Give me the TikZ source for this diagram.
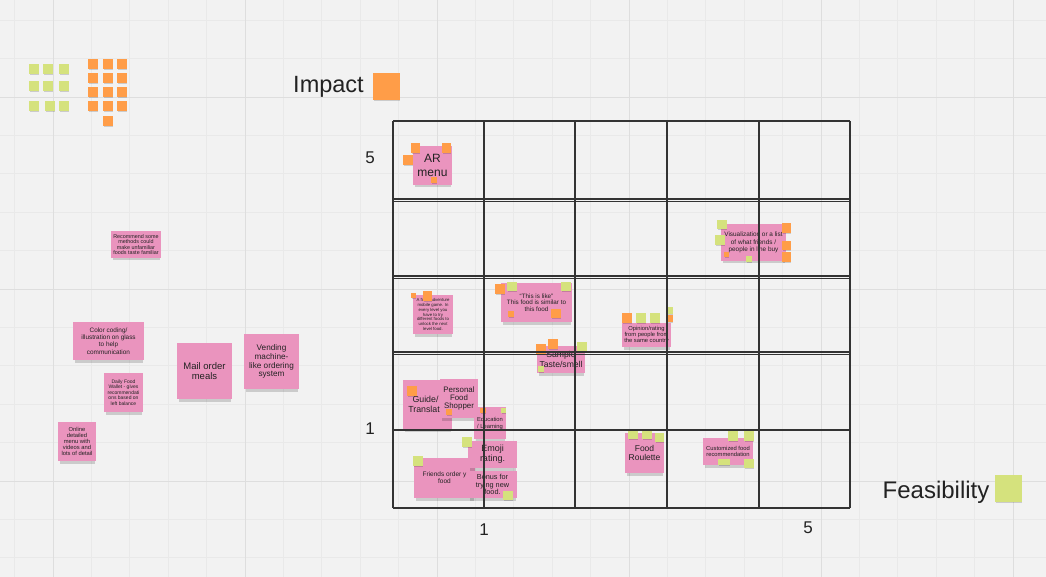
\documentclass[tikz,border=0pt]{standalone}
\usepackage{fontspec}
\setmainfont{Liberation Sans}
\definecolor{bg}{RGB}{242,242,242}
\definecolor{gminor}{RGB}{233,233,233}
\definecolor{gmajor}{RGB}{222,222,222}
\definecolor{pinknote}{RGB}{234,148,190}
\definecolor{orangedot}{RGB}{255,157,72}
\definecolor{greendot}{RGB}{213,226,125}
\definecolor{ink}{RGB}{34,34,34}
\definecolor{gridline}{RGB}{51,51,51}
\tikzset{
  note/.style={fill=pinknote, inner sep=0pt, align=center, text=ink},
  lbl/.style={inner sep=0pt, text=ink},
  shadowfill/.style={black, opacity=0.16},
  matrixline/.style={gridline, line width=1.3pt},
}
% sticky note: name, x1, y1, x2, y2, font size, baselineskip, text
\newcommand\sticky[8]{%
  \fill[shadowfill] ({#2+2},{#5-1}) rectangle ({#4-1},{#5+2.5});
  \node[note, minimum width={#4-#2}, minimum height={#5-#3},
        font=\fontsize{#6}{#7}\selectfont] (#1) at ({(#2+#4)/2},{(#3+#5)/2}) {#8};}
% small dot square: colour, x1, y1, x2, y2
\newcommand\sq[5]{%
  \fill[shadowfill] ({#2+0.5},{#5-0.5}) rectangle ({#4},{#5+1.3});
  \fill[#1] (#2,#3) rectangle (#4,#5);}
\begin{document}
\begin{tikzpicture}[x=1pt,y=-1pt]
\useasboundingbox (0,0) rectangle (1046,577);
\fill[bg] (0,0) rectangle (1046,577);
% background grid
\foreach \i in {0,...,27} \draw[gminor, line width=0.7pt] ({14.6+38.4*\i},0) -- ({14.6+38.4*\i},577);
\foreach \i in {0,...,15} \draw[gminor, line width=0.7pt] (0,{20.2+38.4*\i}) -- (1046,{20.2+38.4*\i});
\foreach \x in {53,245,437,629,821,1013} \draw[gmajor, line width=0.9pt] (\x,0) -- (\x,577);
\foreach \y in {97,289,481} \draw[gmajor, line width=0.9pt] (0,\y) -- (1046,\y);

% legend dots top-left
\foreach \x/\y in {29/64,43/64,59/64,29/81,43/81,59/81,29/101,45/101,59/101}
  {\sq{greendot}{\x}{\y}{\x+10}{\y+10}}
\foreach \x in {88,103,117} \foreach \y in {59,73,87,101}
  {\sq{orangedot}{\x}{\y}{\x+9.5}{\y+10}}
\sq{orangedot}{103}{116}{112.5}{126}

% left notes
\sticky{recommend}{111}{231}{161}{258}{5.4}{5.6}{Recommend some\\methods could\\make unfamiliar\\foods taste familiar}
\sticky{colorcoding}{73}{322}{144}{360}{6.4}{7.3}{Color coding/\\illustration on glass\\to help\\communication}
\sticky{mail}{177}{343}{232}{399}{9.5}{10.5}{Mail order\\meals}
\sticky{vending}{244}{334}{299}{389}{8.2}{8.8}{Vending\\machine-\\like ordering\\system}
\sticky{daily}{104}{373}{143}{412}{5}{5.5}{Daily Food\\Wallet - gives\\recommendati\\ons based on\\left balance}
\sticky{online}{58}{422}{96}{461}{5.8}{6.1}{Online\\detailed\\menu with\\videos and\\lots of detail}

% notes in the matrix
\sticky{ar}{413}{146}{452}{185}{12}{14}{AR\\menu}
\sq{orangedot}{411}{143}{420}{153}
\sq{orangedot}{442}{143}{451}{153}
\sq{orangedot}{403}{155}{413}{165}
\sq{orangedot}{431}{177}{437}{183}

\sticky{game}{413}{295}{453}{334}{4.3}{4.7}{A food-adventure\\mobile game. In\\every level you\\have to try\\different foods to\\unlock the next\\level food.}
\sq{orangedot}{411}{293}{416}{298}
\sq{orangedot}{423}{291}{432}{301}

\sticky{like}{501}{283}{572}{322}{6.3}{6.7}{“This is like”\\This food is similar to\\this food}
\sq{orangedot}{495}{284}{505}{294}
\sq{greendot}{507}{282}{517}{291}
\sq{greendot}{561}{282}{571}{291}
\sq{orangedot}{508}{311}{514}{317}
\sq{orangedot}{551}{309}{561}{318}

\sticky{sample}{537}{346}{585}{373}{8.6}{9.3}{Sample\\Taste/smell}
\sq{orangedot}{536}{344}{546}{354}
\sq{orangedot}{548}{339}{558}{349}
\sq{greendot}{577}{342}{587}{352}
\sq{greendot}{538}{366}{544}{372}

\sticky{opinion}{622}{323}{671}{347}{5.8}{6.3}{Opinion/rating\\from people from\\the same country}
\sq{orangedot}{622}{313}{632}{323}
\sq{greendot}{636}{313}{646}{323}
\sq{greendot}{650}{313}{660}{323}
\sq{greendot}{666}{307}{673}{314}
\sq{orangedot}{666}{315}{673}{322}

\sticky{visual}{721}{224}{786}{261}{6.4}{7.5}{Visualization or a list\\of what friends /\\people in line buy}
\sq{greendot}{717}{220}{727}{229}
\sq{greendot}{715}{235}{725}{245}
\sq{orangedot}{782}{223}{791}{233}
\sq{orangedot}{782}{241}{791}{250}
\sq{orangedot}{782}{252}{791}{262}
\sq{orangedot}{724}{252}{729}{257}
\sq{greendot}{746}{256}{752}{262}

\sticky{guide}{403}{380}{452}{429}{8.8}{9.5}{Guide/\kern4pt\\Translat\kern7pt}
\sq{orangedot}{407}{386}{417}{396}
\sticky{personal}{440}{379}{478}{418}{7.9}{8.3}{Personal\\Food\\Shopper}
\sq{orangedot}{446}{409}{452}{415}
\sticky{education}{474}{407}{506}{439}{5.8}{7}{Education\\/ Learning}
\sq{orangedot}{480}{408}{486}{413}
\sq{greendot}{501}{408}{506}{413}

\sticky{friends}{414}{458}{475}{498}{6.5}{6.7}{Friends order y\\food}
\sq{greendot}{413}{456}{423}{466}
\sticky{emoji}{468}{441}{517}{468}{9}{10.3}{Emoji\\rating.}
\sq{greendot}{462}{437}{472}{447}
\sticky{bonus}{468}{471}{517}{498}{7.3}{7.2}{Bonus for\\trying new\\food.}
\sq{greendot}{503}{491}{513}{500}

\sticky{roulette}{625}{433}{664}{473}{8.5}{9.3}{Food\\Roulette}
\sq{greendot}{628}{430}{638}{439}
\sq{greendot}{642}{430}{652}{439}
\sq{greendot}{655}{433}{664}{442}

\sticky{custom}{703}{438}{753}{465}{5.8}{6}{Customized food\\recommendation}
\sq{greendot}{728}{431}{738}{441}
\sq{greendot}{744}{431}{754}{441}
\sq{greendot}{718}{459}{730}{465}
\sq{greendot}{744}{459}{754}{468}

% the 5x5 matrix
\foreach \x in {393,484,575,667,759,850} \draw[matrixline] (\x,121) -- (\x,508);
\foreach \y in {121,199,201.5,276,278.5,352,354.5,430,508} \draw[matrixline] (393,\y) -- (850,\y);

% axis labels
\node[lbl, font=\fontsize{23.5}{26}\selectfont] (impact) at (328.5,87) {Impact};
\sq{orangedot}{373}{73}{400}{100}
\node[lbl, font=\fontsize{24}{26}\selectfont] (feas) at (936,492) {Feasibility};
\sq{greendot}{995}{475}{1022}{502}
\node[lbl, font=\fontsize{17}{19}\selectfont] (y5) at (370,158) {5};
\node[lbl, font=\fontsize{17}{19}\selectfont] (y1) at (370,429) {1};
\node[lbl, font=\fontsize{17}{19}\selectfont] (x1) at (484,530) {1};
\node[lbl, font=\fontsize{17}{19}\selectfont] (x5) at (808,528) {5};
\end{tikzpicture}
\end{document}
